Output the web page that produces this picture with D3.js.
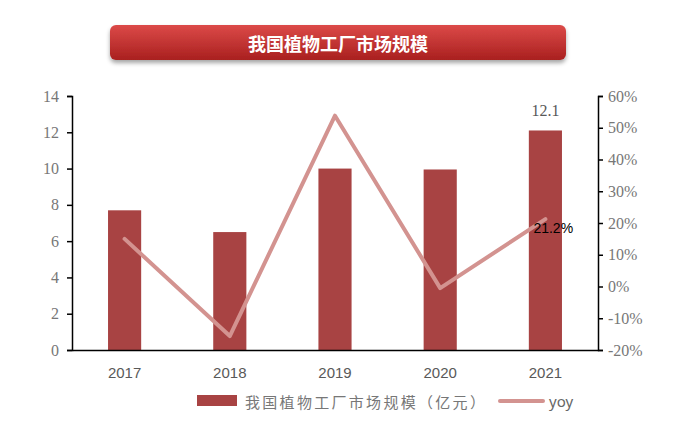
<!DOCTYPE html>
<html>
<head>
<meta charset="utf-8">
<script src="https://cdn.jsdelivr.net/npm/d3@7"></script>
<style>
  body { margin: 0; background: #fff; }
  #chart { width: 697px; height: 445px; }
</style>
</head>
<body>
<div id="chart"></div>
<script>
// Data
const years = ["2017", "2018", "2019", "2020", "2021"];
const marketSize = [7.7, 6.5, 10.0, 9.95, 12.1];   // 亿元
const yoy = [15.0, -15.6, 53.8, -0.5, 21.2];       // %
const leftTicks = [0, 2, 4, 6, 8, 10, 12, 14];
const rightTicks = [-20, -10, 0, 10, 20, 30, 40, 50, 60];

const width = 697, height = 445;
const margin = { top: 96, right: 99, bottom: 95, left: 72 };
const plotW = width - margin.left - margin.right;
const plotH = height - margin.top - margin.bottom;

const svg = d3.select("#chart").append("svg")
  .attr("width", width)
  .attr("height", height);

// Title banner
const defs = svg.append("defs");
const grad = defs.append("linearGradient").attr("id", "titleGrad")
  .attr("x1", 0).attr("y1", 0).attr("x2", 0).attr("y2", 1);
grad.append("stop").attr("offset", "0%").attr("stop-color", "#dc4a48");
grad.append("stop").attr("offset", "100%").attr("stop-color", "#a9201f");
const shadow = defs.append("filter").attr("id", "shadow")
  .attr("x", "-5%").attr("y", "-30%").attr("width", "110%").attr("height", "170%");
shadow.append("feDropShadow").attr("dx", 0).attr("dy", 3).attr("stdDeviation", 2)
  .attr("flood-color", "#000").attr("flood-opacity", 0.35);

svg.append("rect")
  .attr("x", 110).attr("y", 25).attr("width", 456).attr("height", 35)
  .attr("rx", 6)
  .attr("fill", "url(#titleGrad)")
  .attr("filter", "url(#shadow)");
svg.append("text")
  .attr("x", 338).attr("y", 43)
  .attr("text-anchor", "middle").attr("dominant-baseline", "central")
  .attr("fill", "#fff")
  .style("font-family", "'Noto Sans CJK SC', sans-serif")
  .style("font-weight", "bold").style("font-size", "18px")
  .text("我国植物工厂市场规模");

const g = svg.append("g").attr("transform", `translate(${margin.left}, ${margin.top})`);

// Scales
const x = d3.scaleBand().domain(years).range([0, plotW]).padding(0);
const y = d3.scaleLinear().domain([0, 14]).range([plotH, 0]);
const y2 = d3.scaleLinear().domain([-20, 60]).range([plotH, 0]);

const barW = x.bandwidth() * 0.315;
const barColor = "#a84343";
const lineColor = "#d39390";
const tickGray = "#777";

// Bars
g.selectAll("rect.bar")
  .data(marketSize)
  .join("rect")
  .attr("class", "bar")
  .attr("x", (d, i) => x(years[i]) + x.bandwidth() / 2 - barW / 2)
  .attr("y", d => y(d))
  .attr("width", barW)
  .attr("height", d => plotH - y(d))
  .attr("fill", barColor);

// YoY line
const line = d3.line()
  .x((d, i) => x(years[i]) + x.bandwidth() / 2)
  .y(d => y2(d));
g.append("path")
  .datum(yoy)
  .attr("d", line)
  .attr("fill", "none")
  .attr("stroke", lineColor)
  .attr("stroke-width", 4)
  .attr("stroke-linecap", "round")
  .attr("stroke-linejoin", "round");

// Axes
const serif = "'Liberation Serif', 'DejaVu Serif', serif";

const leftAxis = g.append("g")
  .call(d3.axisLeft(y).tickValues(leftTicks).tickSize(5).tickPadding(8));
leftAxis.selectAll("text").style("font-family", serif).style("font-size", "16px").attr("fill", tickGray);

const rightAxis = g.append("g")
  .attr("transform", `translate(${plotW}, 0)`)
  .call(d3.axisRight(y2).tickValues(rightTicks).tickSize(5).tickPadding(5).tickFormat(d => d + "%"));
rightAxis.selectAll("text").style("font-family", serif).style("font-size", "16px").attr("fill", tickGray);

const bottomAxis = g.append("g")
  .attr("transform", `translate(0, ${plotH})`)
  .call(d3.axisBottom(x).tickSize(0).tickPadding(17));
bottomAxis.selectAll("text").style("font-family", "'Liberation Sans', Arial, sans-serif").style("font-size", "15px").attr("fill", "#595959");

[leftAxis, rightAxis, bottomAxis].forEach(a => {
  a.select(".domain").attr("stroke", "#000").attr("stroke-width", 1.5);
  a.selectAll(".tick line").attr("stroke", "#000").attr("stroke-width", 1.5);
});

// Data labels for last point
const last = years.length - 1;
g.append("text")
  .attr("x", x(years[last]) + x.bandwidth() / 2)
  .attr("y", y(marketSize[last]) - 14)
  .attr("text-anchor", "middle")
  .style("font-family", serif).style("font-size", "16px")
  .attr("fill", "#595959")
  .text(marketSize[last].toFixed(1));
g.append("text")
  .attr("x", x(years[last]) + x.bandwidth() / 2 - 12)
  .attr("y", y2(yoy[last]) + 14)
  .style("font-family", "'Liberation Sans', Arial, sans-serif").style("font-size", "14px")
  .attr("fill", "#000")
  .text(yoy[last].toFixed(1) + "%");

// Legend
const legend = svg.append("g");
legend.append("rect")
  .attr("x", 197).attr("y", 395).attr("width", 40).attr("height", 11)
  .attr("fill", barColor);
legend.append("text")
  .attr("x", 245).attr("y", 401)
  .attr("dominant-baseline", "central")
  .style("font-family", "'Noto Sans CJK SC', sans-serif").style("font-size", "15px")
  .attr("fill", "#777")
  .style("letter-spacing", "2.3px")
  .text("我国植物工厂市场规模（亿元）");
legend.append("line")
  .attr("x1", 500).attr("x2", 543).attr("y1", 401).attr("y2", 401)
  .attr("stroke", lineColor).attr("stroke-width", 4).attr("stroke-linecap", "round");
legend.append("text")
  .attr("x", 549).attr("y", 401)
  .attr("dominant-baseline", "central")
  .style("font-family", "'Noto Sans', sans-serif").style("font-size", "15px")
  .attr("fill", "#666")
  .text("yoy");
</script>
</body>
</html>
